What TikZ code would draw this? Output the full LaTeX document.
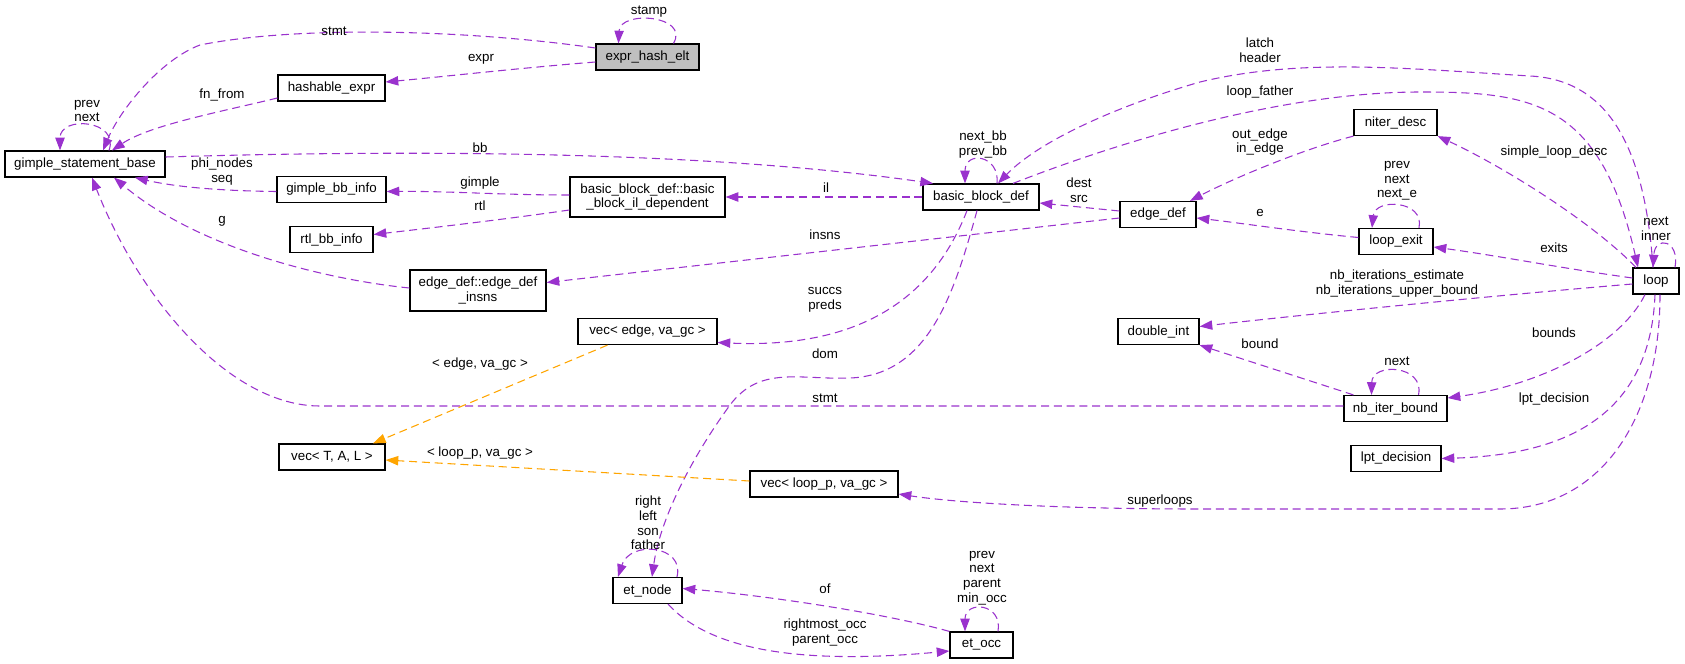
\documentclass[tikz,border=0pt]{standalone}
\usepackage{fontspec}
\setmainfont{Liberation Sans}
\usetikzlibrary{arrows.meta,calc}
\definecolor{gvpurple}{HTML}{9A32CD}
\definecolor{gvorange}{HTML}{FFA500}
\definecolor{gvgray}{HTML}{BFBFBF}
\begin{document}
\begin{tikzpicture}[x=0.75pt,y=-0.75pt,
 every node/.style={font=\fontsize{10}{11}\selectfont},
 cls/.style={draw=black,line width=0.9pt,rectangle,inner sep=0pt,minimum height=19.5pt,align=center,fill=white},
 cls2/.style={cls,minimum height=30pt},
 lbl/.style={inner sep=0pt,align=center},
 mem/.style={draw=gvpurple,line width=0.8pt,dash pattern=on 6pt off 3.6pt,-{Triangle[length=9.5pt,width=7pt]}},
 tpl/.style={mem,draw=gvorange},
]
\useasboundingbox (0,0) rectangle (1685,664);
% nodes
\node[cls,fill=gvgray,minimum width=77.25pt] (ehe) at (647.5,57) {expr\_hash\_elt};
\node[cls,minimum width=80.25pt] (hex) at (331.5,88) {hashable\_expr};
\node[cls,minimum width=120pt] (gsb) at (85,164) {gimple\_statement\_base};
\node[cls,minimum width=81.75pt] (gbi) at (331.5,189.5) {gimple\_bb\_info};
\node[cls,minimum width=62.25pt] (rtl) at (331.5,239.5) {rtl\_bb\_info};
\node[cls2,minimum width=116.25pt] (bbil) at (647.5,197) {basic\_block\_def::basic\\\_block\_il\_dependent};
\node[cls,minimum width=87pt] (bbd) at (981,197) {basic\_block\_def};
\node[cls,minimum width=57pt] (ed) at (1158,214.5) {edge\_def};
\node[cls,minimum width=62.25pt] (nd) at (1395.5,122.5) {niter\_desc};
\node[cls,minimum width=55.5pt] (le) at (1396,241.5) {loop\_exit};
\node[cls,minimum width=34.5pt] (lp) at (1656,281) {loop};
\node[cls2,minimum width=102pt,minimum height=30.75pt] (edi) at (478,290.5) {edge\_def::edge\_def\\\_insns};
\node[cls,minimum width=104.25pt] (ve) at (647.5,331.5) {vec< edge, va\_gc >};
\node[cls,minimum width=60.75pt] (di) at (1158.5,331.5) {double\_int};
\node[cls,minimum width=77.25pt] (nib) at (1395.5,408.5) {nb\_iter\_bound};
\node[cls,minimum width=79.5pt] (vtal) at (332,457) {vec< T, A, L >};
\node[cls,minimum width=67.5pt] (lpt) at (1396,458.5) {lpt\_decision};
\node[cls,minimum width=111pt] (vlp) at (824,484) {vec< loop\_p, va\_gc >};
\node[cls,minimum width=51.75pt] (etn) at (647.5,590.5) {et\_node};
\node[cls,minimum width=47.25pt] (eto) at (981.5,645) {et\_occ};

% edges
\draw[mem] ($(ehe.west)+(0,-9)$) .. controls (470,30) and (300,25) .. (200,45) .. controls (160,60) and (120,110) .. ($(gsb.north)+(18,0)$);
\node[lbl] (lstmt1) at (334,31) {stmt};
\draw[mem] ($(ehe.west)+(0,5)$) .. controls (520,68) and (450,76) .. ($(hex.east)+(0,-6)$);
\node[lbl] (lexpr) at (481,59) {expr};
\draw[mem] ($(ehe.north)+(26,0)$) .. controls (690,15) and (620,10) .. ($(ehe.north)+(-29,0)$);
\node[lbl] (lstamp) at (649,12) {stamp};
\draw[mem] ($(hex.west)+(0,10)$) .. controls (220,112) and (150,125) .. ($(gsb.north)+(27,0)$);
\node[lbl] (lfn) at (222,95) {fn\_from};
\draw[mem] ($(gsb.north)+(24,0)$) .. controls (120,120) and (60,115) .. ($(gsb.north)+(-25,0)$);
\node[lbl] (lpn) at (87,111) {prev\\next};
\draw[mem] ($(gsb.east)+(0,-7)$) .. controls (400,150) and (700,150) .. ($(bbd.north)+(-48,0)$);
\node[lbl] (lbb) at (480,148) {bb};
\draw[mem] ($(gbi.west)+(0,2)$) .. controls (230,191) and (180,188) .. ($(gsb.south)+(50,0)$);
\node[lbl] (lphi) at (222,171.5) {phi\_nodes\\seq};
\draw[mem] ($(bbil.west)+(0,-2)$) .. controls (500,195) and (450,191) .. ($(gbi.east)+(0,2)$);
\node[lbl] (lgimple) at (480,183) {gimple};
\draw[mem] ($(bbil.west)+(0,13)$) .. controls (500,220) and (430,228) .. ($(rtl.east)+(0,-5)$);
\node[lbl] (lrtl) at (480,206) {rtl};
\draw[mem] ($(edi.west)+(0,-2.5)$) .. controls (330,280) and (200,250) .. ($(gsb.south)+(29,0)$);
\node[lbl] (lg) at (222,221) {g};
\draw[mem] ($(nib.west)+(0,-2.5)$) -- (320,406) .. controls (230,406) and (140,300) .. ($(gsb.south)+(7,0)$);
\node[lbl] (lstmt2) at (825,398) {stmt};
\draw[mem] (bbd.west) -- (bbil.east);
\node[lbl] (lil) at (826,188) {il};
\draw[mem] ($(bbd.north)+(16,0)$) .. controls (1000,155) and (965,150) .. ($(bbd.north)+(-16,0)$);
\node[lbl] (lnbb) at (983,144.5) {next\_bb\\prev\_bb};
\draw[mem] ($(lp.north)+(-3,0)$) .. controls (1645,150) and (1610,80) .. (1530,76) .. controls (1400,68) and (1300,58) .. (1200,82) .. controls (1120,105) and (1040,140) .. ($(bbd.north)+(17,0)$);
\node[lbl] (llatch) at (1260,50) {latch\\header};
\draw[mem] ($(bbd.north)+(32,0)$) .. controls (1150,130) and (1300,92) .. (1420,92) .. controls (1530,92) and (1600,100) .. ($(lp.north)+(-18,0)$);
\node[lbl] (llf) at (1260,92) {loop\_father};
\draw[mem] ($(ed.west)+(0,-3.5)$) -- ($(bbd.east)+(0,6)$);
\node[lbl] (ldest) at (1079,190) {dest\\src};
\draw[mem] (nd.south west) .. controls (1300,150) and (1230,180) .. ($(ed.north)+(32,0)$);
\node[lbl] (loe) at (1260,142) {out\_edge\\in\_edge};
\draw[mem] ($(lp.north)+(-20,0)$) .. controls (1590,220) and (1500,165) .. (nd.south east);
\node[lbl] (lsld) at (1554,152) {simple\_loop\_desc};
\draw[mem] ($(le.west)+(0,-4)$) .. controls (1300,232) and (1240,223) .. ($(ed.east)+(0,3.5)$);
\node[lbl] (le1) at (1260,213) {e};
\draw[mem] ($(le.north)+(23,0)$) .. controls (1425,200) and (1375,198) .. ($(le.north)+(-24,0)$);
\node[lbl] (lpne) at (1397,181) {prev\\next\\next\_e};
\draw[mem] ($(lp.west)+(0,-3)$) .. controls (1560,268) and (1500,256) .. ($(le.east)+(0,5.5)$);
\node[lbl] (lexits) at (1554,248) {exits};
\draw[mem] ($(lp.west)+(0,3)$) .. controls (1500,295) and (1300,315) .. ($(di.east)+(0,-5)$);
\node[lbl] (lnbi) at (1397,283.5) {nb\_iterations\_estimate\\nb\_iterations\_upper\_bound};
\draw[mem] ($(ed.west)+(0,3.5)$) -- ($(edi.east)+(0,-8)$);
\node[lbl] (linsns) at (825,235) {insns};
\draw[mem] ($(bbd.south)+(-14,0)$) .. controls (940,280) and (880,350) .. ($(ve.east)+(0,11)$);
\node[lbl] (lsp) at (825,299.5) {succs\\preds};
\draw[mem] ($(bbd.south)+(-4,0)$) .. controls (955,290) and (930,375) .. (850,378) .. controls (800,380) and (760,365) .. (730,405) .. controls (690,460) and (660,520) .. ($(etn.north)+(4.5,0)$);
\node[lbl] (ldom) at (825,354) {dom};
\draw[tpl] ($(ve.south)+(-40,0)$) -- ($(vtal.north)+(41,0)$);
\node[lbl] (lev) at (480,364) {< edge, va\_gc >};
\draw[tpl] ($(vlp.west)+(0,-3)$) -- ($(vtal.east)+(0,3)$);
\node[lbl] (llv) at (480,453) {< loop\_p, va\_gc >};
\draw[mem] ($(nib.north west)+(10,0)$) -- (di.south east);
\node[lbl] (lbound) at (1260,344) {bound};
\draw[mem] ($(nib.north)+(23,0)$) .. controls (1425,365) and (1372,362) .. ($(nib.north)+(-24,0)$);
\node[lbl] (lnext1) at (1397,361) {next};
\draw[mem] ($(lp.south)+(-11,0)$) .. controls (1620,345) and (1540,385) .. ($(nib.east)+(0,-10.5)$);
\node[lbl] (lbounds) at (1554,333) {bounds};
\draw[mem] ($(lp.south)+(-1,0)$) .. controls (1650,420) and (1560,455) .. (lpt.east);
\node[lbl] (llpt) at (1554,399) {lpt\_decision};
\draw[mem] ($(lp.south)+(4,0)$) .. controls (1660,420) and (1600,509) .. (1500,509) -- (1200,509) .. controls (1050,509) and (950,502) .. ($(vlp.east)+(0,10)$);
\node[lbl] (lsuper) at (1160,501) {superloops};
\draw[mem] ($(lp.north)+(19,0)$) .. controls (1680,240) and (1655,235) .. ($(lp.north)+(-3,0)$);
\node[lbl] (lni) at (1656,228.5) {next\\inner};
\draw[mem] ($(etn.north)+(29.5,0)$) .. controls (685,545) and (630,540) .. ($(etn.north)+(-29.5,0)$);
\node[lbl] (lrlsf) at (648,523) {right\\left\\son\\father};
\draw[mem] (eto.north west) .. controls (880,612) and (760,595) .. ($(etn.east)+(0,-2)$);
\node[lbl] (lof) at (825,589) {of};
\draw[mem] ($(etn.south)+(20.5,0)$) .. controls (710,650) and (800,665) .. ($(eto.west)+(0,6)$);
\node[lbl] (lro) at (825,632.5) {rightmost\_occ\\parent\_occ};
\draw[mem] ($(eto.north)+(16.5,0)$) .. controls (1003,603) and (965,600) .. ($(eto.north)+(-16.5,0)$);
\node[lbl] (lpnpm) at (982,578) {prev\\next\\parent\\min\_occ};
\end{tikzpicture}
\end{document}
